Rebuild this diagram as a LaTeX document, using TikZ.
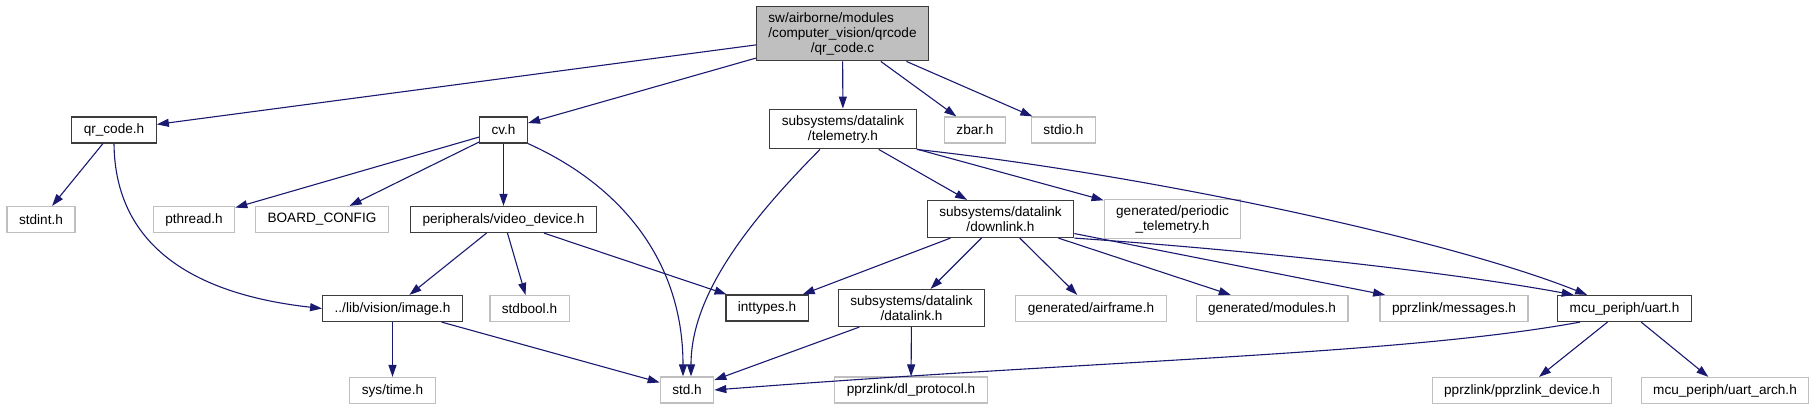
\documentclass[tikz,border=0pt]{standalone}
\usepackage{fontspec}
\setmainfont{Liberation Sans}
\usetikzlibrary{arrows.meta}
\definecolor{edgeblue}{RGB}{25,25,112}
\definecolor{grey75}{RGB}{191,191,191}
\definecolor{boxline}{RGB}{60,60,60}
\tikzset{
  >={Triangle[length=12pt,width=8pt]},
  file/.style={draw=#1,fill=white,line width=1.2pt,font=\fontsize{13.6}{15}\selectfont,
    inner xsep=12pt,inner ysep=6pt,minimum height=26pt,align=center},
  file/.default=boxline,
  extfile/.style={file=grey75},
  mainfile/.style={file=boxline,fill=grey75},
  dep/.style={->,draw=edgeblue,line width=1.1pt},
}

\begin{document}
\begin{tikzpicture}[x=1pt,y=-1pt]
  \useasboundingbox (0,0) rectangle (1819,409);
  % files
  \node[mainfile] (root) at (842.5,33.5) {\rlap{sw/airborne/modules}\phantom{/computer\_vision/qrcode}\\/computer\_vision/qrcode\\/qr\_code.c};
  \node[file] (qrcode) at (114,130) {qr\_code.h};
  \node[file] (cvh) at (503.5,130) {cv.h};
  \node[file] (telemetry) at (843,129) {subsystems/datalink\\/telemetry.h};
  \node[extfile] (zbar) at (975,130) {zbar.h};
  \node[extfile] (stdio) at (1063.5,130) {stdio.h};

  \node[extfile] (stdint) at (41,219.5) {stdint.h};
  \node[extfile] (pthread) at (194,219.5) {pthread.h};
  \node[extfile] (board) at (322,219.5) {BOARD\_CONFIG};
  \node[file] (video) at (503.5,219.5) {peripherals/video\_device.h};
  \node[file] (downlink) at (1000.5,219) {subsystems/datalink\\/downlink.h};
  \node[extfile] (periodic) at (1172.5,219) {generated/periodic\\\_telemetry.h};

  \node[file] (image) at (392.5,308.5) {../lib/vision/image.h};
  \node[extfile] (stdbool) at (529.5,308.5) {stdbool.h};
  \node[file] (inttypes) at (767,308) {inttypes.h};
  \node[file] (datalink) at (911.5,308) {subsystems/datalink\\/datalink.h};
  \node[extfile] (airframe) at (1091,308.5) {generated/airframe.h};
  \node[extfile] (modules) at (1272,308.5) {generated/modules.h};
  \node[extfile] (messages) at (1454,308.5) {pprzlink/messages.h};
  \node[file] (uart) at (1624.5,308.5) {mcu\_periph/uart.h};

  \node[extfile] (systime) at (392.5,390.5) {sys/time.h};
  \node[extfile] (stdh) at (687,390) {std.h};
  \node[extfile] (dlproto) at (911,390) {pprzlink/dl\_protocol.h};
  \node[extfile] (pprzdev) at (1522,390.5) {pprzlink/pprzlink\_device.h};
  \node[extfile] (uartarch) at (1725,390.5) {mcu\_periph/uart\_arch.h};

  % includes
  \draw[dep] (root) -- (qrcode);
  \draw[dep] (root) -- (cvh);
  \draw[dep] (root) -- (telemetry);
  \draw[dep] (root) -- (zbar);
  \draw[dep] (root) -- (stdio);
  \draw[dep] (qrcode) -- (stdint);
  \draw[dep] (qrcode.south) .. controls (115,250) and (200,295) .. (image.west);
  \draw[dep] (cvh) -- (pthread);
  \draw[dep] (cvh) -- (board);
  \draw[dep] (cvh) -- (video);
  \draw[dep] (cvh.south east) .. controls (620,185) and (683,260) .. ([xshift=-4pt]stdh.north);
  \draw[dep] ([xshift=-23pt]telemetry.south) .. controls (740,230) and (691,300) .. ([xshift=4pt]stdh.north);
  \draw[dep] (telemetry) -- (downlink);
  \draw[dep] (telemetry) -- (periodic);
  \draw[dep] (telemetry.south east) .. controls (1150,175) and (1450,240) .. (uart.160);
  \draw[dep] (video) -- (image);
  \draw[dep] (video) -- (stdbool);
  \draw[dep] (video) -- (inttypes);
  \draw[dep] (downlink) -- (inttypes);
  \draw[dep] (downlink) -- (datalink);
  \draw[dep] (downlink) -- (airframe);
  \draw[dep] (downlink) -- (modules);
  \draw[dep] (downlink) -- (messages);
  \draw[dep] (downlink.south east) .. controls (1250,250) and (1450,272) .. (uart.165);
  \draw[dep] (image) -- (systime);
  \draw[dep] (image) -- (stdh);
  \draw[dep] (datalink) -- (stdh);
  \draw[dep] (datalink) -- (dlproto);
  \draw[dep] (uart.-163) .. controls (1400,355) and (1100,360) .. (stdh.east);
  \draw[dep] (uart) -- (pprzdev);
  \draw[dep] (uart) -- (uartarch);
\end{tikzpicture}
\end{document}
